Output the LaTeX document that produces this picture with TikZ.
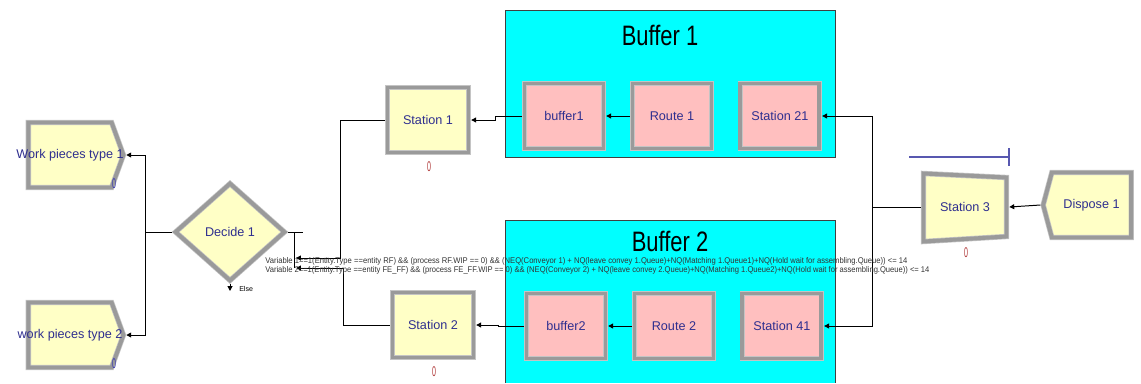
\documentclass[tikz,border=0pt]{standalone}
\usepackage{fontspec}
\usepackage{graphicx}
\setmainfont{Liberation Sans}
\usetikzlibrary{shapes.geometric, shapes.symbols, arrows.meta, positioning}

\definecolor{bufcyan}{HTML}{00FFFF}
\definecolor{modyellow}{HTML}{FFFFC6}
\definecolor{modpink}{HTML}{FFBFBF}
\definecolor{modtext}{HTML}{2F2F8F}
\definecolor{bevel}{HTML}{9A9A9A}
\definecolor{bevelrim}{HTML}{C4C4C4}
\definecolor{cntblue}{HTML}{3A3AB0}
\definecolor{cntred}{HTML}{B03A3A}
\definecolor{queueline}{HTML}{5858B0}

\newcommand{\tally}{\scalebox{.5}[1]{0}}

\tikzstyle{bevelled} = [draw=bevelrim, double=bevel, double distance=2.8pt, line width=0.5pt, outer sep=1.9pt]
\tikzstyle{station} = [rectangle, bevelled, fill=modyellow, minimum width=2.025cm, minimum height=1.625cm, text=modtext, font=\fontsize{9}{11}\selectfont]
\tikzstyle{block} = [rectangle, bevelled, fill=modpink, minimum width=1.975cm, minimum height=1.625cm, text=modtext, font=\fontsize{9}{11}\selectfont]
\tikzstyle{create} = [signal, signal to=east, signal pointer angle=140, bevelled, fill=modyellow, minimum width=2.375cm, minimum height=1.625cm, inner sep=0pt, text=modtext, font=\fontsize{9}{11}\selectfont]
\tikzstyle{dispose} = [signal, signal to=west, signal pointer angle=150, bevelled, fill=modyellow, minimum width=2.2cm, minimum height=1.625cm, inner sep=0pt, text=modtext, font=\fontsize{9}{11}\selectfont]
\tikzstyle{decide} = [diamond, bevelled, fill=modyellow, minimum width=2.775cm, minimum height=2.475cm, inner sep=0pt, text=modtext, font=\fontsize{9}{11}\selectfont]
\tikzstyle{title} = [font=\fontsize{20}{24}\selectfont, text=black]
\tikzstyle{cond} = [anchor=west, inner sep=0pt, text=black!80, font=\fontsize{6}{7}\selectfont]
\tikzstyle{counter} = [inner sep=0pt, font=\fontsize{10}{12}\selectfont]
\tikzstyle{line} = [line width=0.7pt]
\tikzstyle{link} = [line width=0.7pt, {Triangle[length=3.5pt,width=3.5pt]}-]

\begin{document}
\begin{tikzpicture}[x=0.025cm, y=-0.025cm]
    \useasboundingbox (0,0) rectangle (1141,383);

    % buffer areas
    \fill[bufcyan] (505,10) rectangle (835,157);
    \draw[black!75] (505,10) rectangle (835,157);
    \fill[bufcyan] (505,220) rectangle (835,383);
    \draw[black!75] (505,383) |- (835,220) -- (835,383);
    \node (title1) [title] at (660,35) {\scalebox{.78}[1]{Buffer 1}};
    \node (title2) [title] at (670,241) {\scalebox{.78}[1]{Buffer 2}};

    % modules
    \node (create1) [create] at (70,155) {\makebox[0pt]{Work pieces type 1}};
    \node (create2) [create] at (70,335) {\makebox[0pt]{work pieces type 2}};
    \node (dec) [decide] at (230,232) {Decide 1};
    \node (st1) [station] at (428,120) {Station 1};
    \node (st2) [station] at (433,325) {Station 2};
    \node (buf1) [block] at (564,116) {buffer1};
    \node (route1) [block, right=0.59cm of buf1] {Route 1};
    \node (st21) [block, right=0.59cm of route1] {Station 21};
    \node (buf2) [block] at (566,326) {buffer2};
    \node (route2) [block, right=0.59cm of buf2] {Route 2};
    \node (st41) [block, right=0.59cm of route2] {Station 41};
    \filldraw[bevelled, fill=modyellow] (923.5,173.5) -- (1006.5,177.5) -- (1006.5,236.5) -- (923.5,241.5) -- cycle;
    \node (st3) [minimum width=2.2cm, minimum height=1.7cm, text=modtext, font=\fontsize{9}{11}\selectfont] at (965,207) {Station 3};
    \node (disp) [dispose] at (1091.5,205) {Dispose 1};

    % queue of station 3
    \draw[queueline, line width=0.9pt] (909,157) -- (1009,157);
    \draw[queueline, line width=0.9pt] (1009,148) -- (1009,166);

    % counters
    \node (n1) [counter, text=cntblue] at (114,184) {\tally};
    \node (n2) [counter, text=cntblue] at (114,364) {\tally};
    \node (n3) [counter, text=cntred] at (429,167) {\tally};
    \node (n4) [counter, text=cntred] at (434,372) {\tally};
    \node (n5) [counter, text=cntred] at (966,253) {\tally};

    % decide exits
    \coordinate (join) at (145,232);
    \coordinate (dec stub) at (303,232);
    \coordinate (dec bar) at (294,232);
    \coordinate (dec bar end) at (294,268);
    \coordinate (dec exit1) at (296,258);
    \coordinate (dec exit2) at (296,268);
    \coordinate (turn1) at (340,120);
    \coordinate (turn2) at (343,325);
    \coordinate (merge) at (872,207);
    \coordinate (else tip) at (230,291);

    \draw [link] (create1.east) -| (join);
    \draw [link] (create2.east) -| (join);
    \draw [line] (join) -- (dec.west);
    \draw [line] (dec.east) -- (dec stub);
    \draw [line] (dec bar) -- (dec bar end);
    \draw [line, -{Triangle[length=3.5pt,width=3.5pt]}] (dec.south) -- (else tip);
    \node (else) [anchor=west, inner sep=0pt, font=\fontsize{5}{6}\selectfont] at (239,289) {Else};
    \draw [link] (dec exit1) -| (turn1) -- (st1.west);
    \draw [link] (dec exit2) -| (turn2) -- (st2.west);
    \draw [link] (st1.east) -- ++(24,0) |- (buf1.west);
    \draw [link] (st2.east) -- ++(22,0) |- (buf2.west);
    \draw [link] (buf1.east) -- (route1.west);
    \draw [link] (buf2.east) -- (route2.west);
    \draw [link] (st21.east) -| (merge);
    \draw [link] (st41.east) -| (merge);
    \draw [line] (merge) -- (st3.west);
    \draw [link] (st3.east) -- (disp.west);

    % conditions of decide
    \node (cond1) [cond] at (265,261) {\resizebox{16.05cm}{0.15cm}{Variable 1==1(Entity.Type ==entity RF) \&\& (process RF.WIP == 0) \&\& (NEQ(Conveyor 1) + NQ(leave convey 1.Queue)+NQ(Matching 1.Queue1)+NQ(Hold wait for assembling.Queue)) <= 14}};
    \node (cond2) [cond] at (265,270) {\resizebox{16.6cm}{0.15cm}{Variable 2==1(Entity.Type ==entity FE\_FF) \&\& (process FE\_FF.WIP == 0) \&\& (NEQ(Conveyor 2) + NQ(leave convey 2.Queue)+NQ(Matching 1.Queue2)+NQ(Hold wait for assembling.Queue)) <= 14}};
\end{tikzpicture}
\end{document}
